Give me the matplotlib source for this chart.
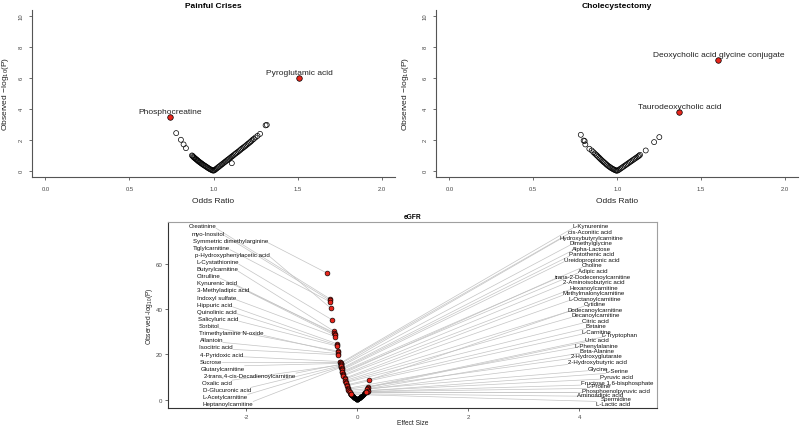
import matplotlib
matplotlib.use('Agg')
import matplotlib.pyplot as plt
import numpy as np

plt.rcParams['font.family'] = ['Liberation Sans', 'DejaVu Sans']
plt.rcParams['axes.unicode_minus'] = False
plt.rcParams['mathtext.default'] = 'regular'

# ---------------- Painful Crises ----------------
pc_x = [0.778, 0.806, 0.822, 0.836, 0.872, 0.876, 0.880, 0.884, 0.888, 0.893, 0.897, 0.902,
        0.906, 0.910, 0.915, 0.920, 0.925, 0.930, 0.935, 0.940, 0.946, 0.952, 0.957, 0.963,
        0.968, 0.974, 0.980, 0.986, 0.992, 0.997,
        1.003, 1.008, 1.014, 1.020, 1.027, 1.033, 1.040, 1.047, 1.053, 1.060, 1.067, 1.073,
        1.080, 1.086, 1.093, 1.100, 1.107, 1.113, 1.120, 1.128, 1.135, 1.143, 1.150, 1.158,
        1.165, 1.173, 1.180, 1.188, 1.195, 1.203, 1.210, 1.218, 1.225, 1.233, 1.240, 1.250,
        1.262, 1.277, 1.310, 1.317, 1.109]
pc_y = [2.43, 2.00, 1.70, 1.46, 0.99, 0.95, 0.90, 0.86, 0.82, 0.78, 0.74, 0.70,
        0.66, 0.62, 0.58, 0.54, 0.50, 0.46, 0.42, 0.38, 0.34, 0.30, 0.26, 0.22,
        0.18, 0.14, 0.10, 0.07, 0.04, 0.01,
        0.02, 0.06, 0.11, 0.16, 0.22, 0.27, 0.33, 0.39, 0.44, 0.50, 0.56, 0.61,
        0.67, 0.72, 0.78, 0.84, 0.90, 0.95, 1.01, 1.08, 1.14, 1.20, 1.26, 1.33,
        1.40, 1.46, 1.52, 1.58, 1.65, 1.72, 1.78, 1.85, 1.92, 2.00, 2.06, 2.15,
        2.25, 2.38, 2.93, 2.96, 0.49]
pc_hit_labels = ['Pyroglutamic acid', 'Phosphocreatine']
pc_hit_x = [1.51, 0.739]
pc_hit_y = [6.0, 3.46]

# ---------------- Cholecystectomy ----------------
ch_x = [0.783, 0.800, 0.806, 0.810, 0.834, 0.848, 0.858, 0.866, 0.874, 0.880, 0.887, 0.894,
        0.900, 0.907, 0.914, 0.920, 0.927, 0.934, 0.940, 0.947, 0.954, 0.960, 0.967, 0.974,
        0.980, 0.987, 0.993, 0.998,
        1.005, 1.012, 1.020, 1.028, 1.036, 1.044, 1.052, 1.060, 1.068, 1.076, 1.084, 1.092,
        1.100, 1.108, 1.116, 1.124, 1.130, 1.136, 1.170, 1.220, 1.251]
ch_y = [2.32, 1.95, 1.92, 1.70, 1.42, 1.31, 1.20, 1.12, 1.04, 0.98, 0.90, 0.83,
        0.76, 0.69, 0.62, 0.56, 0.50, 0.43, 0.37, 0.31, 0.26, 0.21, 0.16, 0.12,
        0.08, 0.05, 0.02, 0.00,
        0.03, 0.08, 0.14, 0.20, 0.26, 0.32, 0.38, 0.44, 0.50, 0.56, 0.62, 0.68,
        0.74, 0.80, 0.86, 0.92, 0.97, 1.03, 1.31, 1.85, 2.17]
ch_hit_labels = ['Deoxycholic acid glycine conjugate', 'Taurodeoxycholic acid']
ch_hit_x = [1.603, 1.370]
ch_hit_y = [7.17, 3.82]

# ---------------- eGFR ----------------
eg_bg_x = [-0.125, -0.118, -0.110, -0.105, -0.098, -0.090, -0.085, -0.078, -0.070, -0.064,
           -0.058, -0.050, -0.045, -0.038, -0.030, -0.024, -0.018, -0.012, -0.006, 0.000,
           0.006, 0.012, 0.020, 0.028, 0.035, 0.043, 0.050, 0.058, 0.066, 0.074,
           0.082, 0.090, 0.098, 0.106, 0.114, 0.120, 0.128, 0.133]
eg_bg_y = [2.6, 2.4, 2.2, 2.0, 1.85, 1.7, 1.55, 1.4, 1.25, 1.1,
           1.0, 0.85, 0.75, 0.62, 0.5, 0.4, 0.3, 0.2, 0.1, 0.02,
           0.1, 0.22, 0.35, 0.5, 0.65, 0.8, 0.95, 1.1, 1.3, 1.45,
           1.65, 1.8, 2.0, 2.2, 2.45, 2.7, 3.0, 3.3]

eg_left_labels = ['Creatinine', 'myo-Inositol', 'Symmetric dimethylarginine', 'Tiglylcarnitine',
                  'p-Hydroxyphenylacetic acid', 'L-Cystathionine', 'Butyrylcarnitine', 'Citrulline',
                  'Kynurenic acid', '3-Methyladipic acid', 'Indoxyl sulfate', 'Hippuric acid',
                  'Quinolinic acid', 'Salicyluric acid', 'Sorbitol', 'Trimethylamine N-oxide',
                  'Allantoin', 'Isocitric acid', '4-Pyridoxic acid', 'Sucrose', 'Glutarylcarnitine',
                  '2-trans,4-cis-Decadienoylcarnitine', 'Oxalic acid', 'D-Glucuronic acid',
                  'L-Acetylcarnitine', 'Heptanoylcarnitine']
eg_left_x = [-0.50, -0.49, -0.55, -0.49, -0.48, -0.46, -0.42, -0.42, -0.41, -0.40, -0.40, -0.37, -0.37,
             -0.36, -0.35, -0.35, -0.34, -0.34, -0.31, -0.31, -0.30, -0.30, -0.30, -0.29, -0.29, -0.29]
eg_left_y = [44.6, 43.8, 55.9, 43.2, 40.4, 35.3, 30.2, 29.6, 29.1, 28.4, 27.8, 24.7, 24.1,
             23.6, 21.4, 20.9, 20.3, 19.8, 16.8, 16.4, 16.0, 15.6, 15.3, 15.0, 14.6, 14.3]

eg_right_labels = ['L-Kynurenine', 'cis-Aconitic acid', 'Hydroxybutyrylcarnitine', 'Dimethylglycine',
                   'Alpha-Lactose', 'Pantothenic acid', 'Ureidopropionic acid', 'Choline', 'Adipic acid',
                   'trans-2-Dodecenoylcarnitine', '2-Aminoisobutyric acid', 'Hexanoylcarnitine',
                   'Methylmalonylcarnitine', 'L-Octanoylcarnitine', 'Cytidine', 'Dodecanoylcarnitine',
                   'Decanoylcarnitine', 'Citric acid', 'Betaine', 'L-Carnitine', 'L-Tryptophan',
                   'Uric acid', 'L-Phenylalanine', 'Beta-Alanine', '2-Hydroxyglutarate',
                   '2-Hydroxybutyric acid', 'Glycine', 'L-Serine', 'Pyruvic acid',
                   'Fructose 1,6-bisphosphate', 'L-Proline', 'Phosphoenolpyruvic acid',
                   'Aminoadipic acid', 'Spermidine', 'L-Lactic acid']
eg_right_x = [-0.30, -0.30, -0.29, -0.29, -0.28, -0.28, -0.28, -0.27, -0.27, -0.26, -0.25, -0.25,
              -0.23, -0.23, 0.22, -0.22, -0.21, -0.21, -0.19, -0.19, 0.19, 0.19, -0.17, 0.18,
              -0.17, 0.175, -0.16, 0.20, -0.15, 0.20, 0.17, -0.14, 0.165, -0.12, -0.12]
eg_right_y = [16.2, 15.8, 15.1, 14.7, 13.9, 13.5, 13.0, 12.4, 12.0, 11.5, 10.9, 10.5,
              9.4, 9.0, 8.7, 8.4, 7.9, 7.5, 6.5, 6.1, 5.6, 5.3, 5.0, 4.8,
              4.6, 4.5, 4.1, 3.9, 3.6, 3.6, 3.5, 3.3, 3.2, 2.6, 2.3]

# label placement (repelled text positions, data units)
eg_left_lx = [-2.793, -2.690, -2.281, -2.623, -2.245, -2.515, -2.523, -2.685, -2.533, -2.414,
              -2.533, -2.564, -2.523, -2.497, -2.677, -2.263, -2.631, -2.541, -2.450, -2.631,
              -2.425, -1.933, -2.523, -2.353, -2.378, -2.330]
eg_left_ly = [76.75, 73.53, 70.31, 67.23, 64.14, 60.87, 57.79, 54.70, 51.61, 48.39, 45.17, 42.08,
              38.99, 35.73, 32.64, 29.42, 26.33, 23.25, 20.03, 16.94, 13.85, 10.59, 7.50, 4.28,
              1.19, -1.90]
eg_right_lx = [4.205, 4.198, 4.216, 4.216, 4.216, 4.223, 4.223, 4.234, 4.234, 4.241, 4.265, 4.259,
               4.265, 4.277, 4.283, 4.288, 4.288, 4.295, 4.306, 4.314, 4.733, 4.314, 4.314, 4.319,
               4.314, 4.319, 4.337, 4.679, 4.679, 4.674, 4.342, 4.661, 4.368, 4.661, 4.613]
eg_right_ly = [76.75, 74.28, 71.77, 69.25, 66.79, 64.40, 61.93, 59.42, 56.90, 54.43, 52.05, 49.58,
               47.20, 44.73, 42.35, 39.88, 37.36, 34.85, 32.51, 29.99, 28.67, 26.47, 24.00, 21.61,
               19.28, 16.63, 13.85, 12.66, 10.15, 7.50, 6.04, 3.97, 2.07, 0.31, -1.90]

fig = plt.figure(figsize=(8, 4.27), dpi=100)

AX_COL = '#555555'


def volcano_panel(ax, xs, ys, hx, hy, hl, title, ylab_x):
    ax.scatter(xs, ys, s=13, facecolors='none', edgecolors='black', linewidths=0.5, zorder=2)
    ax.scatter(hx, hy, s=16, c='#e8261c', edgecolors='black', linewidths=0.5, zorder=3)
    for x, y, l in zip(hx, hy, hl):
        ax.annotate(l, (x, y), xytext=(0, 2.8), textcoords='offset points', ha='center',
                    va='baseline', fontsize=6, color='#222222')
    ax.set_xlim(-0.08, 2.08)
    ax.set_ylim(-0.4, 10.4)
    for s in ['top', 'right']:
        ax.spines[s].set_visible(False)
    for s in ['left', 'bottom']:
        ax.spines[s].set_color(AX_COL)
        ax.spines[s].set_linewidth(0.8)
    ax.set_xticks([0, 0.5, 1.0, 1.5, 2.0])
    ax.set_xticklabels(['0.0', '0.5', '1.0', '1.5', '2.0'])
    ax.set_yticks([0, 2, 4, 6, 8, 10])
    ax.set_yticklabels(['0', '2', '4', '6', '8', '10'], rotation=90, va='center')
    ax.tick_params(axis='both', length=2.5, width=0.6, color=AX_COL, labelsize=4.2,
                   labelcolor='#444444')
    ax.tick_params(axis='x', pad=4)
    ax.tick_params(axis='y', pad=3.5)
    ax.set_title(title, fontsize=6, fontweight='bold', pad=1.5)
    ax.text(0.5, -0.141, 'Odds Ratio', transform=ax.transAxes, ha='center', va='center',
            fontsize=6, color='#222222')
    ax.text(ylab_x, 0.5, r'Observed $-$log$_{10}$(P)', transform=ax.transAxes, rotation=90,
            ha='center', va='center', fontsize=6, color='#222222')


ax1 = fig.add_axes([32 / 800, 1 - 178 / 427, 363 / 800, 167.5 / 427])
volcano_panel(ax1, pc_x, pc_y, pc_hit_x, pc_hit_y, pc_hit_labels, 'Painful Crises', -0.072)
ax2 = fig.add_axes([436 / 800, 1 - 178 / 427, 362.4 / 800, 167.5 / 427])
volcano_panel(ax2, ch_x, ch_y, ch_hit_x, ch_hit_y, ch_hit_labels, 'Cholecystectomy', -0.083)

# ---------------- bottom panel ----------------
ax3 = fig.add_axes([168 / 800, (427 - 409) / 427, 489 / 800, 186 / 427])
ax3.set_xlim(-3.41, 5.40)
ax3.set_ylim(-3.7, 78.4)
ax3.scatter(eg_bg_x, eg_bg_y, s=9, c='black', edgecolors='black', linewidths=0.3, zorder=3)
ax3.scatter(eg_left_x + eg_right_x, eg_left_y + eg_right_y, s=12, c='#e8261c',
            edgecolors='black', linewidths=0.45, zorder=4)
texts = []
for lx, ly, l in zip(eg_left_lx + eg_right_lx, eg_left_ly + eg_right_ly,
                     eg_left_labels + eg_right_labels):
    texts.append(ax3.text(lx, ly, l, ha='center', va='center', fontsize=4.4,
                          color='#111111', zorder=5))
for s in ['top', 'right']:
    ax3.spines[s].set_color('#a0a0a0')
    ax3.spines[s].set_linewidth(0.8)
for s in ['left', 'bottom']:
    ax3.spines[s].set_color('#333333')
    ax3.spines[s].set_linewidth(0.8)
ax3.set_xticks([-2, 0, 2, 4])
ax3.set_yticks([0, 20, 40, 60])
ax3.tick_params(axis='both', length=2.5, width=0.5, color='#333333', labelsize=4.4,
                labelcolor='#4d4d4d', pad=1.5)
ax3.set_title('eGFR', fontsize=4.8, fontweight='bold', pad=3)
ax3.text(0.5, -0.077, 'Effect Size', transform=ax3.transAxes, ha='center', va='center',
         fontsize=4.8, color='#222222')
ax3.text(-0.038, 0.5, r'Observed -log$_{10}$(P)', transform=ax3.transAxes, rotation=90,
         ha='center', va='center', fontsize=4.8, color='#222222')

# segments from label box to point (nearest box point)
fig.canvas.draw()
renderer = fig.canvas.get_renderer()
inv = ax3.transData.inverted()
for t, px, py in zip(texts, eg_left_x + eg_right_x, eg_left_y + eg_right_y):
    bb = t.get_window_extent(renderer)
    dp = ax3.transData.transform((px, py))
    sx = min(max(dp[0], bb.x0), bb.x1)
    sy = min(max(dp[1], bb.y0), bb.y1)
    sd = inv.transform((sx, sy))
    ax3.plot([sd[0], px], [sd[1], py], color='#c4c4c4', lw=0.5, zorder=1)

fig.savefig('out.png', dpi=100)
